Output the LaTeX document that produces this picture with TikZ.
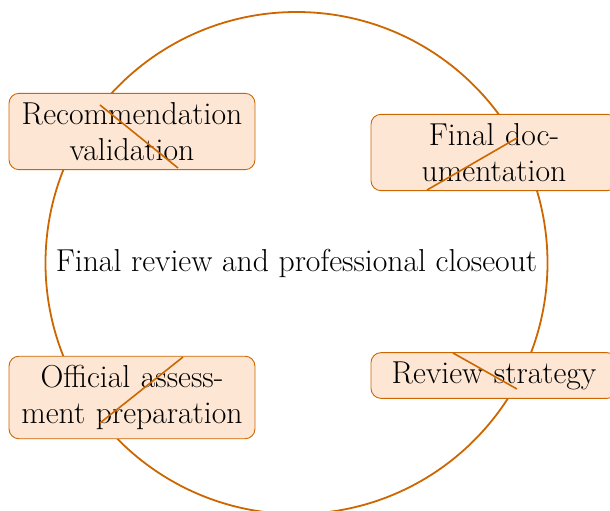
\documentclass[tikz,border=0pt]{standalone}
\usepackage{fontspec}
\setmainfont{Latin Modern Roman}
\definecolor{ring}{RGB}{204,102,0}
\definecolor{boxfill}{RGB}{253,231,212}
\begin{document}
\begin{tikzpicture}[x=1pt,y=-1pt,
  ringline/.style={draw=ring,line width=1.8pt},
  stagebox/.style={draw=ring,line width=0.9pt,fill=boxfill,rounded corners=10pt,
    text width=228pt,inner xsep=9pt,inner ysep=8.8pt,align=center,
    font=\fontsize{31.7}{36.5}\selectfont},
  tick/.style={draw=ring,line width=1.6pt}]
\useasboundingbox (0,0) rectangle (610,511);
\node[circle,ringline,minimum size=502pt,inner sep=0pt] (ring) at (296.5,263) {};
\node[font=\fontsize{31.7}{36.5}\selectfont] (title) at (296.5,263) {Final review and professional closeout};
\node[stagebox] (rv) at (132,131.5) {Recommendation\\validation};
\node[stagebox] (fd) at (494,152.5) {Final doc-\\umentation};
\node[stagebox] (rs) at (494,375.5) {Review strategy};
\node[stagebox] (oa) at (132,397.5) {Official assess-\\ment preparation};
\coordinate (rv1) at (100,105); \coordinate (rv2) at (178,168);
\coordinate (fd1) at (517,138); \coordinate (fd2) at (427,190);
\coordinate (rs1) at (453,353); \coordinate (rs2) at (517,389);
\coordinate (oa1) at (183,357); \coordinate (oa2) at (100,423);
\draw[tick] (rv1) -- (rv2);
\draw[tick] (fd1) -- (fd2);
\draw[tick] (rs1) -- (rs2);
\draw[tick] (oa1) -- (oa2);
\end{tikzpicture}
\end{document}
